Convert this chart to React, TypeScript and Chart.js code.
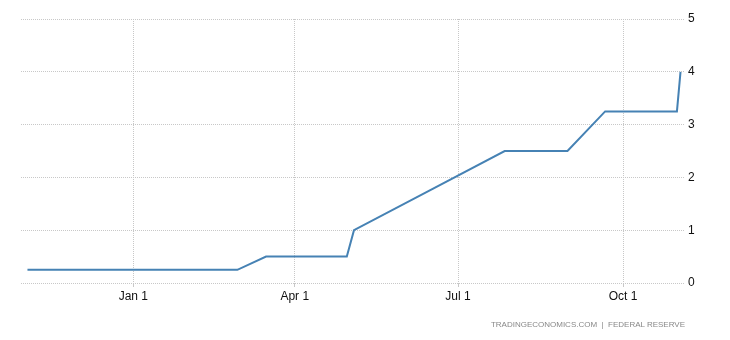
import React, { useEffect, useRef } from "react";
import { Chart, registerables } from "chart.js";

Chart.register(...registerables);

const dates: string[] = [
  "2021-11-03",
  "2021-12-15",
  "2022-01-26",
  "2022-02-28",
  "2022-03-16",
  "2022-04-30",
  "2022-05-04",
  "2022-06-15",
  "2022-07-27",
  "2022-08-31",
  "2022-09-21",
  "2022-10-31",
  "2022-11-02",
];
const rates: number[] = [0.25, 0.25, 0.25, 0.25, 0.5, 0.5, 1.0, 1.75, 2.5, 2.5, 3.25, 3.25, 4.0];

const tickDates: string[] = ["2022-01-01", "2022-04-01", "2022-07-01", "2022-10-01"];
const tickLabels: string[] = ["Jan 1", "Apr 1", "Jul 1", "Oct 1"];
const rangeStart = "2021-10-31";
const rangeEnd = "2022-11-04";

const origin = Date.UTC(2022, 0, 1);
const dayOf = (s: string): number => {
  const [y, m, d] = s.split("-").map(Number);
  return (Date.UTC(y, m - 1, d) - origin) / 86400000;
};

export default function App() {
  const ref = useRef<HTMLCanvasElement | null>(null);
  useEffect(() => {
    if (!ref.current) return;
    const ticksX = tickDates.map(dayOf);
    const chart = new Chart(ref.current, {
      type: "line",
      data: {
        datasets: [
          {
            data: dates.map((d, i) => ({ x: dayOf(d), y: rates[i] })),
            borderColor: "#4682b4",
            borderWidth: 2,
            pointRadius: 0,
            tension: 0,
            fill: false,
          },
        ],
      },
      options: {
        animation: false,
        responsive: false,
        maintainAspectRatio: false,
        layout: { padding: { left: 21, top: 19, right: 0, bottom: 0 } },
        plugins: { legend: { display: false }, tooltip: { enabled: false } },
        scales: {
          x: {
            type: "linear",
            min: dayOf(rangeStart) - 0.6,
            max: dayOf(rangeEnd) + 0.5,
            afterBuildTicks: (axis: any) => {
              axis.ticks = ticksX.map((v) => ({ value: v }));
            },
            afterFit: (axis: any) => {
              axis.height = 57;
            },
            grid: { color: "#c8c8c8", lineWidth: 1, tickLength: 4, drawTicks: true },
            border: { display: false, dash: [1, 1] },
            ticks: {
              autoSkip: false,
              maxRotation: 0,
              padding: 2,
              color: "#111",
              font: { family: "'Liberation Sans', Arial, sans-serif", size: 12 },
              callback: (v: any) => {
                const idx = ticksX.indexOf(Number(v));
                return idx >= 0 ? tickLabels[idx] : "";
              },
            },
          },
          y: {
            position: "right",
            min: 0,
            max: 5,
            afterFit: (axis: any) => {
              axis.width = 45;
            },
            grid: { color: "#c8c8c8", lineWidth: 1, drawTicks: false },
            border: { display: false, dash: [1, 1] },
            ticks: {
              stepSize: 1,
              padding: 3,
              color: "#111",
              font: { family: "'Liberation Sans', Arial, sans-serif", size: 12 },
            },
          },
        },
      },
    });
    return () => chart.destroy();
  }, []);
  return (
    <div style={{ position: "absolute", left: 0, top: 0, width: 730, height: 340, background: "#fff" }}>
      <canvas ref={ref} width={730} height={340} style={{ display: "block" }} />
      <div
        style={{
          position: "absolute",
          right: 45,
          top: 320,
          fontFamily: "'Liberation Sans', Arial, sans-serif",
          fontSize: 8,
          color: "#888",
          whiteSpace: "pre",
        }}
      >
        TRADINGECONOMICS.COM  |  FEDERAL RESERVE
      </div>
    </div>
  );
}
